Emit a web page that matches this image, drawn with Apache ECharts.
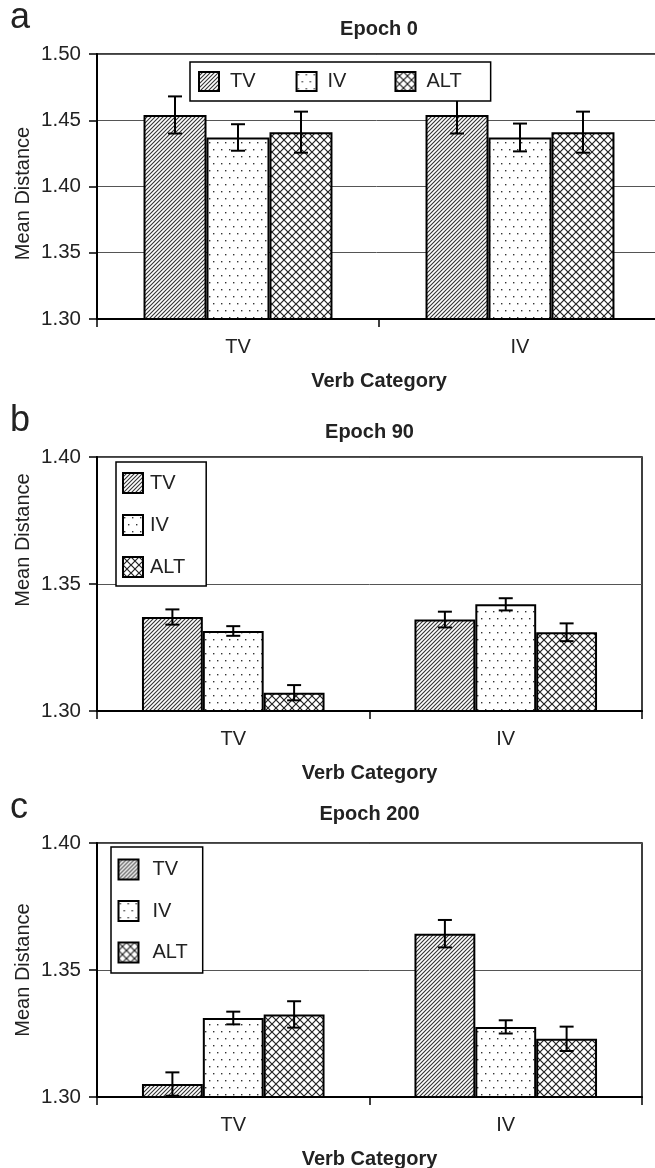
<!DOCTYPE html>
<html><head><meta charset="utf-8">
<script src="https://cdn.jsdelivr.net/npm/echarts@6/dist/echarts.min.js"></script>
<style>html,body{margin:0;padding:0;background:#fff}#c{width:655px;height:1168px}</style>
</head><body><div id="c"></div>
<script>
// ---- data ----
const categories = ['TV', 'IV'];
const seriesNames = ['TV', 'IV', 'ALT'];
const panelTitles = ['Epoch 0', 'Epoch 90', 'Epoch 200'];
const panelLetters = ['a', 'b', 'c'];

const epoch0_TV = [1.454, 1.454];
const epoch0_IV = [1.437, 1.437];
const epoch0_ALT = [1.441, 1.441];
const epoch0_TV_err = [0.014, 0.014];
const epoch0_IV_err = [0.010, 0.0105];
const epoch0_ALT_err = [0.0155, 0.0155];

const epoch90_TV = [1.337, 1.336];
const epoch90_IV = [1.3315, 1.342];
const epoch90_ALT = [1.3072, 1.331];
const epoch90_TV_err = [0.003, 0.0031];
const epoch90_IV_err = [0.0019, 0.0024];
const epoch90_ALT_err = [0.003, 0.0035];

const epoch200_TV = [1.3051, 1.3643];
const epoch200_IV = [1.3311, 1.3276];
const epoch200_ALT = [1.3325, 1.3229];
const epoch200_TV_err = [0.0046, 0.0054];
const epoch200_IV_err = [0.0025, 0.0026];
const epoch200_ALT_err = [0.0052, 0.0048];

const yRangeA = [1.30, 1.50];
const yRangeBC = [1.30, 1.40];
const yInterval = 0.05;

// ---- patterns ----
function tile(w, h, draw) {
  const c = document.createElement('canvas');
  c.width = w; c.height = h;
  const g = c.getContext('2d');
  g.fillStyle = '#fff'; g.fillRect(0, 0, w, h);
  draw(g);
  return { image: c, repeat: 'repeat' };
}
const hatch = tile(4, 4, g => {
  g.strokeStyle = '#333'; g.lineWidth = 1.1; g.beginPath();
  g.moveTo(0, 4); g.lineTo(4, 0);
  g.moveTo(-1, 1); g.lineTo(1, -1);
  g.moveTo(3, 5); g.lineTo(5, 3);
  g.stroke();
});
const dots = tile(8, 14, g => {
  g.fillStyle = '#333';
  g.fillRect(1, 2, 1.4, 1.4);
  g.fillRect(5, 9, 1.4, 1.4);
});
const cross = tile(8, 8, g => {
  g.strokeStyle = '#222'; g.lineWidth = 1.2; g.beginPath();
  g.moveTo(0, 0); g.lineTo(8, 8);
  g.moveTo(8, 0); g.lineTo(0, 8);
  g.stroke();
});
const fills = [hatch, dots, cross];

const FONT = 'Liberation Sans, Arial, sans-serif';
const CAT_GAP = 0.33;

function errRender(k) {
  return function (params, api) {
    const ci = api.value(0), v = api.value(1), e = api.value(2);
    const catW = api.size([1, 0])[0];
    const barW = catW * (1 - CAT_GAP) / 3;
    const off = (k - 1) * barW;
    const t = api.coord([ci, v + e]);
    const b = api.coord([ci, v - e]);
    const x = t[0] + off, cap = 7;
    const st = { stroke: '#000', lineWidth: 2 };
    return {
      type: 'group', children: [
        { type: 'line', shape: { x1: x, y1: t[1], x2: x, y2: b[1] }, style: st },
        { type: 'line', shape: { x1: x - cap, y1: t[1], x2: x + cap, y2: t[1] }, style: st },
        { type: 'line', shape: { x1: x - cap, y1: b[1], x2: x + cap, y2: b[1] }, style: st }
      ]
    };
  };
}

const panels = [
  { vals: [epoch0_TV, epoch0_IV, epoch0_ALT], errs: [epoch0_TV_err, epoch0_IV_err, epoch0_ALT_err], range: yRangeA },
  { vals: [epoch90_TV, epoch90_IV, epoch90_ALT], errs: [epoch90_TV_err, epoch90_IV_err, epoch90_ALT_err], range: yRangeBC },
  { vals: [epoch200_TV, epoch200_IV, epoch200_ALT], errs: [epoch200_TV_err, epoch200_IV_err, epoch200_ALT_err], range: yRangeBC }
];

const grids = [
  { left: 97, top: 54, width: 564, height: 265 },
  { left: 97, top: 457, width: 545, height: 254 },
  { left: 97, top: 843, width: 545, height: 254 }
].map(g => Object.assign(g, { show: true, borderColor: '#000', borderWidth: 1.5, backgroundColor: 'transparent',
  containLabel: false, outerBoundsMode: 'none' }));

const xAxes = [0, 1, 2].map(i => ({
  type: 'category', gridIndex: i, data: categories,
  axisLine: { lineStyle: { color: '#000', width: 2 } },
  axisTick: { show: true, length: 8, lineStyle: { color: '#000', width: 1.5 } },
  axisLabel: { fontSize: 20, color: '#222', margin: 18, fontFamily: FONT },
  name: 'Verb Category', nameLocation: 'middle', nameGap: 52, nameMoveOverlap: false,
  nameTextStyle: { fontSize: 20, fontWeight: 'bold', color: '#222', fontFamily: FONT }
}));

const yNamePad = [[0, 14, 0, 0], [0, 0, 0, 88], [0, 0, 0, 0]];
const yAxes = [0, 1, 2].map(i => ({
  type: 'value', gridIndex: i, min: panels[i].range[0], max: panels[i].range[1], interval: yInterval,
  axisLine: { show: true, lineStyle: { color: '#000', width: 2 } },
  axisTick: { show: true, length: 8, lineStyle: { color: '#000', width: 1.5 } },
  splitLine: { show: true, lineStyle: { color: '#555', width: 1 } },
  axisLabel: { fontSize: 20.5, color: '#222', margin: 16, fontFamily: FONT, formatter: v => v.toFixed(2) },
  name: 'Mean Distance', nameLocation: 'middle', nameGap: 64, nameMoveOverlap: false,
  nameTextStyle: { fontSize: 20, color: '#222', fontFamily: FONT, padding: yNamePad[i] }
}));

const series = [];
panels.forEach((p, i) => {
  seriesNames.forEach((n, k) => {
    series.push({
      type: 'bar', name: n, xAxisIndex: i, yAxisIndex: i,
      data: p.vals[k], barGap: '0%', barCategoryGap: (CAT_GAP * 100) + '%',
      itemStyle: { color: fills[k], borderColor: '#000', borderWidth: 2 },
      emphasis: { disabled: true }, z: 2
    });
  });
  seriesNames.forEach((n, k) => {
    series.push({
      type: 'custom', name: n + ' error', xAxisIndex: i, yAxisIndex: i, z: 3,
      renderItem: errRender(k),
      data: categories.map((c, j) => [j, p.vals[k][j], p.errs[k][j]])
    });
  });
});

const legendBase = {
  icon: 'rect', backgroundColor: '#fff', borderColor: '#000', borderWidth: 1.5,
  borderRadius: 0, z: 10, selectedMode: false
};
const padA = [[0, 30, 0, 6], [0, 38, 0, 6], [0, 0, 0, 6]];
const legends = [
  Object.assign({}, legendBase, { left: 190, top: 62, orient: 'horizontal', padding: [9, 29, 9, 8], itemWidth: 20, itemHeight: 19, itemGap: 10,
    data: seriesNames.map((n, k) => ({ name: n, textStyle: { padding: padA[k] } })),
    textStyle: { fontSize: 20, lineHeight: 20, color: '#222', fontFamily: FONT } }),
  Object.assign({}, legendBase, { left: 116, top: 462, orient: 'vertical', padding: [10, 21, 8, 6], itemWidth: 20, itemHeight: 20, itemGap: 20,
    data: seriesNames,
    textStyle: { fontSize: 20, lineHeight: 20, color: '#222', fontFamily: FONT, padding: [0, 0, 0, 2] } }),
  Object.assign({}, legendBase, { left: 111, top: 847, orient: 'vertical', padding: [11.5, 15, 9.5, 6.5], itemWidth: 20, itemHeight: 20, itemGap: 19.5,
    data: seriesNames,
    textStyle: { fontSize: 20, lineHeight: 20, color: '#222', fontFamily: FONT, padding: [0, 0, 0, 9] } })
];

const titleCenters = [379, 369.5, 369.5];
const titleTops = [19, 422, 804];
const letterTops = [0, 403, 790];
const titles = [];
panelTitles.forEach((t, i) => {
  titles.push({ text: t, left: titleCenters[i], top: titleTops[i], textAlign: 'center', padding: 0,
    textStyle: { fontSize: 20, fontWeight: 'bold', color: '#222', fontFamily: FONT } });
  titles.push({ text: panelLetters[i], left: 10, top: letterTops[i], padding: 0,
    textStyle: { fontSize: 36, fontWeight: 'normal', color: '#222', fontFamily: FONT } });
});

const chart = echarts.init(document.getElementById('c'), null, { renderer: 'canvas' });
chart.setOption({
  animation: false,
  backgroundColor: '#fff',
  textStyle: { fontFamily: FONT },
  title: titles,
  legend: legends,
  grid: grids,
  xAxis: xAxes,
  yAxis: yAxes,
  series: series
});
</script></body></html>
